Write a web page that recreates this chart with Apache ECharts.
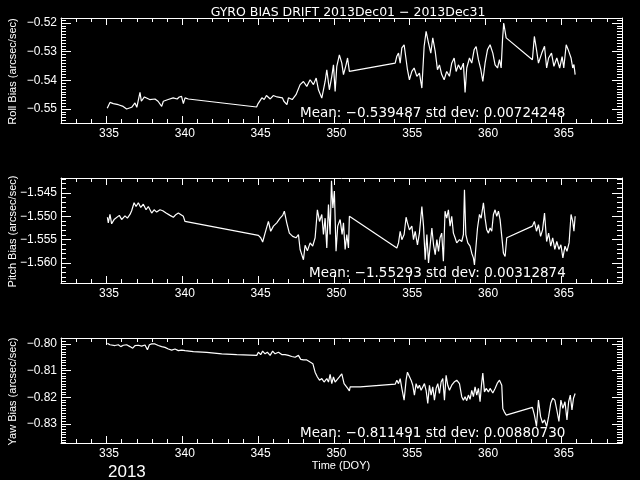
<!DOCTYPE html>
<html><head><meta charset="utf-8">
<script src="https://cdn.jsdelivr.net/npm/echarts@6/dist/echarts.min.js"></script>
<style>html,body{margin:0;padding:0;background:#000}#c{width:640px;height:480px}</style>
</head><body><div id="c"></div>
<script>
const titleText = 'GYRO BIAS DRIFT 2013Dec01 \u2212 2013Dec31';
const xMajorTicks = [335, 340, 345, 350, 355, 360, 365];
const xRange = [332, 369];
const rollTicks = [-0.55, -0.54, -0.53, -0.52];
const pitchTicks = [-1.560, -1.555, -1.550, -1.545];
const yawTicks = [-0.83, -0.82, -0.81, -0.80];
const rollRange = [-0.55488, -0.51826];
const pitchRange = [-1.56429, -1.54179];
const yawRange = [-0.83719, -0.79777];
const rollStats = 'Mean: \u22120.539487 std dev: 0.00724248';
const pitchStats = 'Mean: \u22121.55293 std dev: 0.00312874';
const yawStats = 'Mean: \u22120.811491 std dev: 0.00880730';
const yearLabel = '2013';

const rollData = [
[335.05,-0.5497],[335.23,-0.5477],[335.45,-0.5481],[335.78,-0.5485],[336.1,-0.5491],[336.33,-0.5500],[336.66,-0.5494],[336.88,-0.5479],[337.0,-0.5494],[337.21,-0.5442],
[337.3,-0.5473],[337.5,-0.5458],[337.85,-0.5467],[338.2,-0.5465],[338.4,-0.5473],[338.64,-0.5491],[338.75,-0.5473],[339.07,-0.5467],[339.4,-0.5461],[339.66,-0.5465],
[339.8,-0.5458],[339.95,-0.5456],[340.07,-0.5481],[340.18,-0.5461],[340.4,-0.5465],
[344.9,-0.5493],[345.0,-0.5481],[345.25,-0.5461],[345.4,-0.5467],[345.55,-0.5453],[345.8,-0.5465],[346.0,-0.5453],[346.25,-0.5458],[346.6,-0.5461],[346.7,-0.5473],
[346.9,-0.5485],[347.0,-0.5461],[347.25,-0.5467],[347.5,-0.5450],
[347.77,-0.5415],[347.99,-0.5404],[348.21,-0.5421],[348.43,-0.5398],[348.65,-0.5415],[348.83,-0.5392],[348.98,-0.5433],[349.2,-0.5462],[349.42,-0.5404],[349.53,-0.5363],
[349.7,-0.5433],[349.86,-0.5386],[349.97,-0.5346],[350.08,-0.5439],[350.19,-0.5351],[350.36,-0.5311],[350.52,-0.5340],[350.63,-0.5380],[350.8,-0.5346],[350.9,-0.5322],[351.02,-0.5369],
[354.04,-0.5340],[354.15,-0.5316],[354.26,-0.5305],[354.37,-0.5340],[354.48,-0.5287],[354.63,-0.5276],[354.76,-0.5270],[354.85,-0.5363],[354.98,-0.5398],[355.14,-0.5369],
[355.29,-0.5357],[355.47,-0.5386],[355.64,-0.5375],[355.8,-0.5427],[355.95,-0.5282],[356.08,-0.5229],[356.24,-0.5270],[356.39,-0.5305],[356.52,-0.5252],[356.68,-0.5299],
[356.83,-0.5363],[356.96,-0.5346],[357.11,-0.5380],[357.27,-0.5398],[357.44,-0.5369],[357.62,-0.5386],[357.77,-0.5340],[357.93,-0.5322],[358.06,-0.5369],[358.21,-0.5346],
[358.37,-0.5363],[358.54,-0.5340],[358.65,-0.5442],[358.76,-0.5357],[358.94,-0.5322],[359.09,-0.5340],[359.25,-0.5293],[359.38,-0.5282],[359.53,-0.5328],[359.69,-0.5363],
[359.82,-0.5404],[359.97,-0.5340],[360.13,-0.5293],[360.3,-0.5276],[360.48,-0.5305],[360.63,-0.5346],[360.79,-0.5357],[360.92,-0.5328],[361.03,-0.5357],[361.12,-0.5258],
[361.2,-0.5200],[361.36,-0.5252],
[363.09,-0.5328],[363.22,-0.5247],[363.36,-0.5293],[363.49,-0.5340],[363.71,-0.5305],[363.89,-0.5281],[364.03,-0.5357],[364.16,-0.5322],[364.35,-0.5305],[364.51,-0.5351],
[364.7,-0.5322],[364.89,-0.5357],[365.05,-0.5317],[365.16,-0.5357],[365.32,-0.5276],[365.45,-0.5293],[365.56,-0.5287],[365.64,-0.5322],[365.75,-0.5357],[365.83,-0.5345],[365.91,-0.5380]
];

const pitchData = [
[335.06,-1.5502],[335.12,-1.5514],[335.23,-1.5496],[335.34,-1.5516],[335.5,-1.5507],[335.63,-1.5504],[335.85,-1.5498],[336.0,-1.5507],[336.22,-1.5499],[336.38,-1.5504],
[336.55,-1.5496],[336.66,-1.5488],[336.82,-1.5471],[336.95,-1.5479],[337.1,-1.5471],[337.26,-1.5481],[337.43,-1.5474],[337.61,-1.5486],[337.76,-1.5479],[337.98,-1.5493],
[338.14,-1.5486],[338.31,-1.5491],[338.53,-1.5486],[338.71,-1.5488],[338.93,-1.5493],[339.19,-1.5498],[339.41,-1.5502],[339.59,-1.5496],[339.74,-1.5493],[339.89,-1.5496],
[340.07,-1.5500],[340.18,-1.5511],
[345.02,-1.5541],[345.17,-1.5546],[345.3,-1.5555],[345.46,-1.5536],[345.68,-1.5511],[345.83,-1.5532],[346.01,-1.5521],[346.23,-1.5514],[346.45,-1.5504],[346.62,-1.5498],
[346.73,-1.5489],[346.89,-1.5514],[347.06,-1.5536],[347.28,-1.5543],[347.5,-1.5546],[347.66,-1.5539],[347.77,-1.5571],[347.88,-1.5582],[347.99,-1.5593],[348.1,-1.5562],
[348.25,-1.5574],[348.43,-1.5557],[348.6,-1.5564],[348.76,-1.5546],[348.91,-1.5486],[349.05,-1.5511],[349.2,-1.5496],[349.31,-1.5539],[349.42,-1.5504],[349.53,-1.5568],
[349.64,-1.5475],[349.75,-1.5539],[349.84,-1.5424],[349.93,-1.5482],[350.03,-1.5446],[350.14,-1.5575],[350.25,-1.5521],[350.41,-1.5507],[350.54,-1.5539],[350.63,-1.5514],
[350.74,-1.5571],[350.85,-1.5539],[350.96,-1.5568],[351.02,-1.5500],
[354.15,-1.5568],[354.26,-1.5557],[354.37,-1.5532],[354.48,-1.5550],[354.63,-1.5539],[354.76,-1.5502],[354.85,-1.5514],[354.98,-1.5529],[355.14,-1.5521],[355.25,-1.5550],
[355.36,-1.5532],[355.51,-1.5561],[355.64,-1.5536],[355.8,-1.5479],[355.91,-1.5521],[356.02,-1.5593],[356.13,-1.5539],[356.24,-1.5600],[356.35,-1.5561],[356.46,-1.5525],
[356.57,-1.5561],[356.68,-1.5582],[356.79,-1.5550],[356.9,-1.5575],[357.0,-1.5546],[357.11,-1.5536],[357.22,-1.5596],[357.33,-1.5489],[357.44,-1.5504],[357.55,-1.5486],
[357.66,-1.5521],[357.77,-1.5500],[357.88,-1.5536],[357.99,-1.5546],[358.1,-1.5557],[358.28,-1.5550],[358.43,-1.5554],[358.54,-1.5539],[358.61,-1.5443],[358.7,-1.5539],
[358.83,-1.5557],[358.98,-1.5564],[359.09,-1.5579],[359.2,-1.5589],[359.27,-1.5604],[359.36,-1.5568],[359.47,-1.5525],[359.6,-1.5496],[359.71,-1.5504],[359.86,-1.5471],
[359.97,-1.5504],[360.08,-1.5529],[360.19,-1.5536],[360.3,-1.5525],[360.41,-1.5532],[360.52,-1.5496],[360.63,-1.5486],[360.74,-1.5500],[360.85,-1.5489],[360.96,-1.5507],
[361.07,-1.5543],[361.18,-1.5579],[361.29,-1.5586],[361.4,-1.5546],
[363.09,-1.5521],[363.22,-1.5511],[363.36,-1.5532],[363.49,-1.5518],[363.63,-1.5543],[363.76,-1.5529],[363.89,-1.5493],[364.03,-1.5554],[364.16,-1.5536],[364.3,-1.5564],
[364.43,-1.5546],[364.57,-1.5571],[364.7,-1.5554],[364.84,-1.5571],[364.97,-1.5561],[365.1,-1.5589],[365.24,-1.5564],[365.37,-1.5575],[365.51,-1.5557],[365.64,-1.5496],
[365.75,-1.5511],[365.83,-1.5532],[365.91,-1.5500]
];

const yawData = [
[335.06,-0.7998],[335.23,-0.8003],[335.34,-0.7998],[335.56,-0.8006],[335.78,-0.8003],[335.94,-0.8010],[336.11,-0.8005],[336.33,-0.8003],[336.55,-0.8010],[336.73,-0.8016],
[336.88,-0.8006],[337.1,-0.8005],[337.32,-0.8008],[337.54,-0.8004],[337.7,-0.8022],[337.83,-0.8003],[337.98,-0.8000],[338.2,-0.8000],[338.42,-0.8006],[338.64,-0.8010],
[338.86,-0.8013],[339.08,-0.8019],[339.3,-0.8023],[339.52,-0.8019],[339.74,-0.8025],[339.96,-0.8023],[340.18,-0.8025],[340.73,-0.8029],[341.61,-0.8032],[342.6,-0.8037],
[343.59,-0.8040],[344.47,-0.8042],[344.91,-0.8043],[345.02,-0.8031],[345.17,-0.8040],[345.3,-0.8027],[345.46,-0.8037],[345.61,-0.8031],[345.79,-0.8043],[345.96,-0.8027],
[346.12,-0.8037],[346.34,-0.8031],[346.56,-0.8040],[346.78,-0.8040],[347.0,-0.8043],[347.22,-0.8047],[347.44,-0.8050],[347.66,-0.8043],[347.81,-0.8058],[347.99,-0.8060],
[348.21,-0.8060],[348.43,-0.8068],[348.61,-0.8074],[348.76,-0.8106],[348.91,-0.8124],[349.05,-0.8136],[349.2,-0.8130],[349.35,-0.8143],[349.53,-0.8130],[349.64,-0.8143],
[349.75,-0.8114],[349.86,-0.8149],[349.97,-0.8124],[350.08,-0.8143],[350.19,-0.8149],[350.36,-0.8124],[350.52,-0.8112],[350.67,-0.8149],[350.8,-0.8143],[350.91,-0.8167],
[351.02,-0.8176],[351.07,-0.8161],[351.73,-0.8161],
[354.04,-0.8151],[354.15,-0.8136],[354.26,-0.8149],[354.37,-0.8130],[354.48,-0.8167],[354.63,-0.8211],[354.76,-0.8136],[354.85,-0.8106],[354.98,-0.8099],[355.09,-0.8136],
[355.2,-0.8155],[355.31,-0.8192],[355.42,-0.8149],[355.53,-0.8167],[355.64,-0.8155],[355.75,-0.8174],[355.86,-0.8167],[355.97,-0.8149],[356.08,-0.8174],[356.19,-0.8223],
[356.3,-0.8155],[356.41,-0.8192],[356.52,-0.8161],[356.63,-0.8211],[356.74,-0.8167],[356.85,-0.8149],[356.96,-0.8186],[357.07,-0.8143],[357.18,-0.8130],[357.29,-0.8211],
[357.4,-0.8118],[357.51,-0.8155],[357.62,-0.8174],[357.77,-0.8155],[357.93,-0.8143],[358.1,-0.8136],[358.28,-0.8149],[358.43,-0.8198],[358.54,-0.8211],[358.65,-0.8198],
[358.76,-0.8213],[358.87,-0.8192],[358.98,-0.8208],[359.09,-0.8174],[359.2,-0.8198],[359.31,-0.8161],[359.42,-0.8192],[359.53,-0.8167],[359.64,-0.8217],[359.73,-0.8155],
[359.82,-0.8109],[359.93,-0.8180],[360.04,-0.8167],[360.19,-0.8180],[360.3,-0.8167],[360.48,-0.8184],[360.63,-0.8167],[360.79,-0.8146],[360.92,-0.8136],[361.01,-0.8134],
[361.07,-0.8155],[361.14,-0.8242],[361.23,-0.8254],[361.36,-0.8267],
[363.09,-0.8238],[363.22,-0.8266],[363.36,-0.8310],[363.49,-0.8211],[363.63,-0.8273],[363.76,-0.8297],[363.89,-0.8285],[364.03,-0.8310],[364.16,-0.8273],[364.3,-0.8223],
[364.43,-0.8204],[364.57,-0.8211],[364.7,-0.8248],[364.84,-0.8291],[364.97,-0.8211],[365.1,-0.8242],[365.24,-0.8217],[365.37,-0.8285],[365.48,-0.8217],[365.59,-0.8192],
[365.7,-0.8248],[365.8,-0.8204],[365.91,-0.8186]
];

const panels = [
  {name: 'Roll Bias (arcsec/sec)', data: rollData, ticks: rollTicks, range: rollRange, stats: rollStats, dec: 2, minorStep: 0.001, top: 18, statsX: 300},
  {name: 'Pitch Bias (arcsec/sec)', data: pitchData, ticks: pitchTicks, range: pitchRange, stats: pitchStats, dec: 3, minorStep: 0.001, top: 178, statsX: 309},
  {name: 'Yaw Bias (arcsec/sec)', data: yawData, ticks: yawTicks, range: yawRange, stats: yawStats, dec: 2, minorStep: 0.001, top: 338, statsX: 300}
];

const W = '#ffffff';
const FONT = 'Liberation Sans';
const FONT2 = 'DejaVu Sans';
const GL = 61, GW = 561, GH = 105;
const minorXTicks = [];
for (let d = xRange[0] + 1; d < xRange[1]; d++) minorXTicks.push(d);
const fmtMinus = s => s.replace('-', '\u2212');

const grid = [], xAxis = [], yAxis = [], series = [], graphic = [];
panels.forEach((p, i) => {
  grid.push({left: GL, top: p.top, width: GW, height: GH, containLabel: false});
  const minorY = [];
  const lo = Math.ceil(p.range[0] / p.minorStep - 1e-9), hi = Math.floor(p.range[1] / p.minorStep + 1e-9);
  for (let k = lo; k <= hi; k++) minorY.push(+(k * p.minorStep).toFixed(6));
  const xBase = {gridIndex: i, type: 'value', min: xRange[0], max: xRange[1], splitLine: {show: false}};
  const xi = xAxis.length;
  xAxis.push(Object.assign({}, xBase, {position: 'bottom',
    axisLine: {show: true, onZero: false, lineStyle: {color: W, width: 1}},
    axisTick: {show: true, inside: true, length: 7, customValues: xMajorTicks, lineStyle: {color: W}},
    axisLabel: {show: true, customValues: xMajorTicks, color: W, fontFamily: FONT, fontSize: 12, margin: 5, padding: [0, 0, 0, 5]}}));
  xAxis.push(Object.assign({}, xBase, {position: 'bottom', axisLine: {show: false},
    axisTick: {show: true, inside: true, length: 4, customValues: minorXTicks, lineStyle: {color: W}}, axisLabel: {show: false}}));
  xAxis.push(Object.assign({}, xBase, {position: 'top',
    axisLine: {show: true, onZero: false, lineStyle: {color: W, width: 1}},
    axisTick: {show: true, inside: true, length: 7, customValues: xMajorTicks, lineStyle: {color: W}}, axisLabel: {show: false}}));
  xAxis.push(Object.assign({}, xBase, {position: 'top', axisLine: {show: false},
    axisTick: {show: true, inside: true, length: 4, customValues: minorXTicks, lineStyle: {color: W}}, axisLabel: {show: false}}));
  const yBase = {gridIndex: i, type: 'value', min: p.range[0], max: p.range[1], splitLine: {show: false}, scale: true};
  const yi = yAxis.length;
  yAxis.push(Object.assign({}, yBase, {position: 'left',
    axisLine: {show: true, onZero: false, lineStyle: {color: W, width: 1}},
    axisTick: {show: true, inside: true, length: 10, customValues: p.ticks, lineStyle: {color: W}},
    axisLabel: {show: true, customValues: p.ticks, color: W, fontFamily: FONT, fontSize: 12, margin: 4,
      formatter: v => fmtMinus(v.toFixed(p.dec))}}));
  yAxis.push(Object.assign({}, yBase, {position: 'left', axisLine: {show: false},
    axisTick: {show: true, inside: true, length: 5, customValues: minorY, lineStyle: {color: W}}, axisLabel: {show: false}}));
  yAxis.push(Object.assign({}, yBase, {position: 'right',
    axisLine: {show: true, onZero: false, lineStyle: {color: W, width: 1}},
    axisTick: {show: true, inside: true, length: 10, customValues: p.ticks, lineStyle: {color: W}}, axisLabel: {show: false}}));
  yAxis.push(Object.assign({}, yBase, {position: 'right', axisLine: {show: false},
    axisTick: {show: true, inside: true, length: 5, customValues: minorY, lineStyle: {color: W}}, axisLabel: {show: false}}));
  series.push({type: 'line', xAxisIndex: xi, yAxisIndex: yi, data: p.data, showSymbol: false, symbol: 'none',
    lineStyle: {color: W, width: 1.2}, animation: false, clip: true});
  graphic.push({type: 'text', x: 13, y: p.top + GH / 2 + 1, rotation: Math.PI / 2,
    style: {text: p.name, fill: W, font: '11px ' + FONT, textAlign: 'center', textVerticalAlign: 'middle'}});
  graphic.push({type: 'text', x: p.statsX, y: p.top + 95,
    style: {text: p.stats, fill: W, font: '13.5px ' + FONT2, textAlign: 'left', textVerticalAlign: 'middle'}});
});
graphic.push({type: 'text', x: 341, y: 466, style: {text: 'Time (DOY)', fill: W, font: '11px ' + FONT, textAlign: 'center', textVerticalAlign: 'middle'}});
graphic.push({type: 'text', x: 108, y: 472, style: {text: yearLabel, fill: W, font: '17px ' + FONT, textAlign: 'left', textVerticalAlign: 'middle'}});

const chart = echarts.init(document.getElementById('c'), null, {renderer: 'canvas'});
chart.setOption({
  backgroundColor: '#000',
  animation: false,
  title: {text: titleText, left: 343, top: 1, textAlign: 'center',
    textStyle: {color: W, fontFamily: FONT2, fontSize: 12.5, fontWeight: 'normal'}},
  grid, xAxis, yAxis, series, graphic
});
</script></body></html>
